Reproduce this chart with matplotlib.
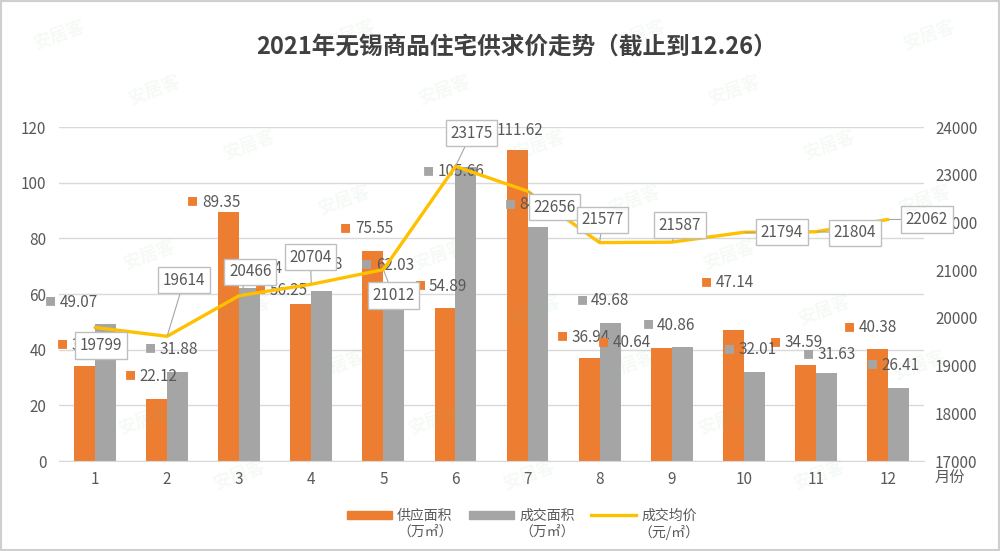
import matplotlib.pyplot as plt
import numpy as np
from matplotlib.patches import Rectangle, Patch
from matplotlib.lines import Line2D

plt.rcParams['font.family'] = ['Noto Sans CJK SC', 'DejaVu Sans']

# data
months = list(range(1, 13))
supply = [34.12, 22.12, 89.35, 56.25, 75.55, 54.89, 111.62, 36.94, 40.64, 47.14, 34.59, 40.38]
deals = [49.07, 31.88, 62.14, 61.18, 62.03, 105.66, 84.16, 49.68, 40.86, 32.01, 31.63, 26.41]
price = [19799, 19614, 20466, 20704, 21012, 23175, 22656, 21577, 21587, 21794, 21804, 22062]

title = '2021年无锡商品住宅供求价走势（截止到12.26）'
labels = ['供应面积', '成交面积', '成交均价']
units = ['（万㎡）', '（万㎡）', '（元/㎡）']

c_orange = '#ED7D31'
c_gray = '#A5A5A5'
c_yellow = '#FFC000'
c_text = '#595959'

# label offsets in pixels (marker position relative to bar top)
off_supply = [(-22, 21), (-26, 23), (-36, 10), (-40, 14), (-27, 22), (-25, 22),
              (-29, 20), (-27, 21), (-58, 5), (-27, 47), (-30, 22), (-28, 21)]
off_deals = [(-55, 22), (-27, 23), (-15, 20), (-27, 26), (-27, 23), (-37, -5),
             (-28, 22), (-28, 22), (-34, 22), (-25, 22), (-18, 18), (-26, 22)]
off_price = [(6, -18), (17, 56), (11, 24), (-1, 27), (10, -26), (16, 33),
             (27, -16), (3, 23), (8, 17), (38, 0), (39, -1), (39, 0)]

fig = plt.figure(figsize=(10, 5.51), dpi=100)
ax = fig.add_axes([0.059, 0.1633, 0.865, 0.6062])
ax2 = ax.twinx()

x = np.array(months)
w = 0.29
ax.bar(x - w / 2, supply, w, color=c_orange, zorder=2)
ax.bar(x + w / 2, deals, w, color=c_gray, zorder=2)

ax.set_xlim(0.5, 12.5)
ax.set_ylim(0, 120)
ax.set_yticks(range(0, 121, 20))
ax.set_xticks(months)
ax.yaxis.grid(True, color='#D9D9D9', lw=1)
ax.set_axisbelow(True)
for s in ['top', 'left', 'right']:
    ax.spines[s].set_visible(False)
ax.spines['bottom'].set_color('#D9D9D9')
ax.tick_params(axis='both', length=0, labelsize=11, labelcolor=c_text)
ax.tick_params(axis='y', pad=9)
ax.tick_params(axis='x', pad=7)

for vals, offs, col, dx0 in [(supply, off_supply, c_orange, -w / 2), (deals, off_deals, c_gray, w / 2)]:
    for m, v, (dx, dy) in zip(months, vals, offs):
        ax.annotate('■', (m + dx0, v), xytext=(dx, dy), textcoords='offset pixels',
                    ha='center', va='center', fontsize=8, color=col, zorder=3)
        ax.annotate(f'{v:.2f}', (m + dx0, v), xytext=(dx + 9, dy), textcoords='offset pixels',
                    ha='left', va='center', fontsize=11, color=c_text, zorder=3)

ax2.plot(x, price, color=c_yellow, lw=2.4, zorder=4, solid_capstyle='round')
ax2.set_ylim(17000, 24000)
ax2.set_yticks(range(17000, 24001, 1000))
for s in ['top', 'left', 'right', 'bottom']:
    ax2.spines[s].set_visible(False)
ax2.tick_params(axis='y', length=0, labelsize=11, labelcolor=c_text, pad=8)

for m, p, (dx, dy) in zip(months, price, off_price):
    ax2.annotate(str(p), (m, p), xytext=(dx, dy), textcoords='offset pixels',
                 ha='center', va='center', fontsize=11, color=c_text, zorder=5,
                 bbox=dict(boxstyle='square,pad=0.3', fc='white', ec='#BFBFBF', lw=1),
                 arrowprops=dict(arrowstyle='-', color='#A6A6A6', lw=0.8, shrinkA=0, shrinkB=1))

fig.text(0.517, 1 - 47 / 551, title, ha='center', va='center', fontsize=17,
         fontweight='bold', color='#404040')
fig.text(0.935, 1 - 478 / 551, '月份', ha='left', va='center', fontsize=11, color=c_text)

handles = [Patch(color=c_orange), Patch(color=c_gray), Line2D([], [], color=c_yellow, lw=2.4)]
leg = fig.legend(handles, labels, loc='center', bbox_to_anchor=(0.522, 1 - 516 / 551), ncol=3,
                 frameon=False, fontsize=10, handlelength=3.2, handleheight=0.55,
                 columnspacing=1.2, handletextpad=0.4)
for t in leg.get_texts():
    t.set_color(c_text)
fig.canvas.draw()
inv = fig.transFigure.inverted()
for t, u in zip(leg.get_texts(), units):
    bb = t.get_window_extent()
    cx, cy = inv.transform(((bb.x0 + bb.x1) / 2, (bb.y0 + bb.y1) / 2))
    fig.text(cx, cy - 16 / 551, u, ha='center', va='center', fontsize=10, color=c_text)

# faint watermark
for r in range(9):
    for k in range(4):
        wx = ((r * 95) % 290 + k * 290 + 60) / 1000
        wy = 1 - (35 + r * 55) / 551
        if wx < 0.95:
            fig.text(wx, wy, '安居客', rotation=20, fontsize=13, fontweight='bold',
                     color='#8cc08c', alpha=0.08, ha='center', va='center', zorder=0)

fig.patches.append(Rectangle((0, 0), 1, 1, transform=fig.transFigure, fill=False,
                             ec='#CFCFCF', lw=3))

fig.savefig('out.png', dpi=100)
